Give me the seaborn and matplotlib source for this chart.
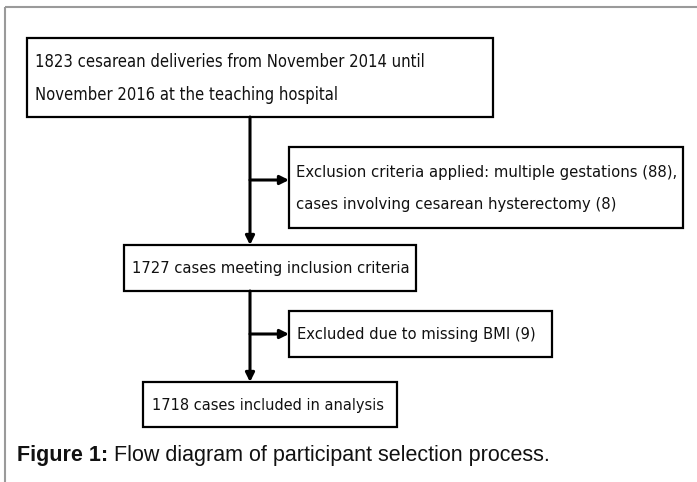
import matplotlib
matplotlib.use("Agg")
import matplotlib.pyplot as plt
from matplotlib import font_manager
from matplotlib.patches import Rectangle
import seaborn as sns

# counts shown in the flow diagram
total_n = 1823
multiple_gestations = 88
hysterectomy = 8
eligible_n = 1727
missing_bmi = 9
analysed_n = 1718

box_texts = [
    f"{total_n} cesarean deliveries from November 2014 until\nNovember 2016 at the teaching hospital",
    f"Exclusion criteria applied: multiple gestations ({multiple_gestations}),\ncases involving cesarean hysterectomy ({hysterectomy})",
    f"{eligible_n} cases meeting inclusion criteria",
    f"Excluded due to missing BMI ({missing_bmi})",
    f"{analysed_n} cases included in analysis",
]
caption_bold = "Figure 1:"
caption_rest = " Flow diagram of participant selection process."

# layout in pixels: left, top, right, bottom
boxes = [
    (27, 38, 493, 117),
    (289, 147, 683, 228),
    (124, 245, 416, 291),
    (289, 311, 552, 357),
    (143, 382, 397, 427),
]
text_x = [35, 296, 132, 297, 152]
text_w = [388, 378, 276, 238, 231]   # width of the widest line, as measured
line_gap = 33
trunk_x = 250
branch_y = [180, 334]

sns.set_theme(style="white")

# pick a narrow face if one is around
names = {f.name for f in font_manager.fontManager.ttflist}
stretch = "normal"
if "Liberation Sans Narrow" in names:
    box_family = ["Liberation Sans Narrow", "DejaVu Sans"]
else:
    box_family = ["DejaVu Sans"]
    p = font_manager.findfont(font_manager.FontProperties(family="DejaVu Sans", stretch="condensed"))
    if "Condensed" in p:
        stretch = "condensed"
plt.rcParams["font.family"] = box_family

fig = plt.figure(figsize=(6.97, 4.82), dpi=100)
ax = fig.add_axes([0, 0, 1, 1])
ax.set_xlim(0, 697)
ax.set_ylim(482, 0)
ax.axis("off")


def fit_size(lines, width):
    line = max(lines, key=len)
    probe = ax.text(0, 0, line, fontsize=12, fontstretch=stretch)
    fig.canvas.draw()
    w = probe.get_window_extent().width
    probe.remove()
    return 12 * width / w


# outer frame
ax.add_patch(Rectangle((5, 7), 700, 490, fill=False, ec="#9a9a9a", lw=1.5))

for (l, t, r, b), txt, tx, tw in zip(boxes, box_texts, text_x, text_w):
    ax.add_patch(Rectangle((l, t), r - l, b - t, fill=False, ec="black", lw=1.6))
    lines = txt.split("\n")
    fs = fit_size(lines, tw)
    mid = (t + b) / 2 + 1
    for i, line in enumerate(lines):
        y = mid + (i - (len(lines) - 1) / 2) * line_gap
        ax.text(tx, y, line, ha="left", va="center", fontsize=fs,
                fontstretch=stretch, color="#111111")

arrow = dict(arrowstyle="-|>", lw=2.2, color="black", mutation_scale=13,
             shrinkA=0, shrinkB=0)

# trunk arrows
ax.annotate("", xy=(trunk_x, boxes[2][1]), xytext=(trunk_x, boxes[0][3]), arrowprops=arrow)
ax.annotate("", xy=(trunk_x, boxes[4][1]), xytext=(trunk_x, boxes[2][3]), arrowprops=arrow)
# side arrows to exclusion boxes
ax.annotate("", xy=(boxes[1][0], branch_y[0]), xytext=(trunk_x, branch_y[0]), arrowprops=arrow)
ax.annotate("", xy=(boxes[3][0], branch_y[1]), xytext=(trunk_x, branch_y[1]), arrowprops=arrow)

# caption
cap_family = ["Liberation Sans", "DejaVu Sans"]
cap_y = 456
cap = ax.text(17, cap_y, caption_bold, ha="left", va="center", fontsize=15.5,
              fontweight="bold", family=cap_family, color="#111111")
fig.canvas.draw()
bb = cap.get_window_extent()
x_end = ax.transData.inverted().transform((bb.x1, bb.y0))[0]
ax.text(x_end, cap_y, caption_rest, ha="left", va="center", fontsize=15.5,
        family=cap_family, color="#111111")

fig.savefig("out.png", dpi=100)
